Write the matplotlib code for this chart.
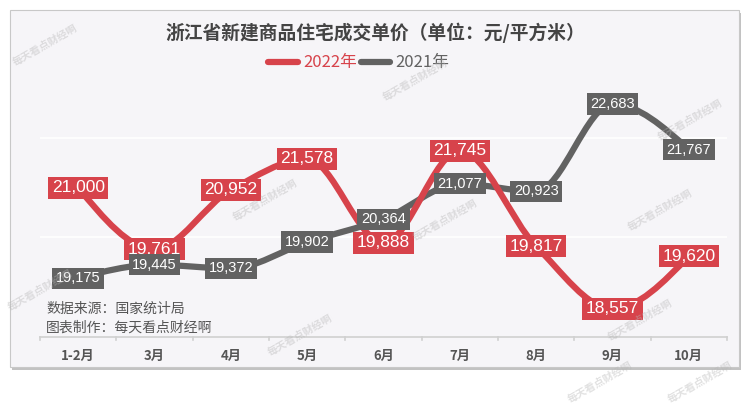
import matplotlib
matplotlib.use("Agg")
import matplotlib.pyplot as plt
import numpy as np
from matplotlib.path import Path
from matplotlib.patches import PathPatch, Rectangle

plt.rcParams['font.family'] = ['Noto Sans CJK SC', 'DejaVu Sans']

months = ["1-2月", "3月", "4月", "5月", "6月", "7月", "8月", "9月", "10月"]
price_2022 = [21000, 19761, 20952, 21578, 19888, 21745, 19817, 18557, 19620]
price_2021 = [19175, 19445, 19372, 19902, 20364, 21077, 20923, 22683, 21767]
y_ticks = [20000, 22000]

RED = "#d7434b"
GRAY = "#626262"
BG = "#f6f5f8"

W, H = 750, 408
fig = plt.figure(figsize=(W / 100, H / 100), dpi=100)
fig.patch.set_facecolor("white")

# frame with shadow
fig.patches.append(Rectangle((12 / W, 1 - 370 / H), 729 / W, 357 / H, transform=fig.transFigure,
                             facecolor="#9a9a9a", edgecolor="none", alpha=0.6, zorder=-2))
fig.patches.append(Rectangle((10 / W, 1 - 367 / H), 729 / W, 357 / H, transform=fig.transFigure,
                             facecolor=BG, edgecolor="#c8c8c8", linewidth=0.8, zorder=-1))

ax = fig.add_axes([40 / W, 1 - 336.5 / H, 687 / W, (336.5 - 38.7) / H])
ax.set_zorder(2)
ax.set_facecolor("none")
ax.set_xlim(-0.5, len(months) - 0.5)
ax.set_ylim(18000, 24000)


def monotone_path(xs, ys):
    xs = np.asarray(xs, float)
    ys = np.asarray(ys, float)
    n = len(xs)
    h = np.diff(xs)
    d = np.diff(ys) / h
    m = np.zeros(n)
    for i in range(1, n - 1):
        if d[i - 1] * d[i] <= 0:
            m[i] = 0.0
        else:
            m[i] = 2.0 / (1.0 / d[i - 1] + 1.0 / d[i])
    m[0] = (3 * d[0] - m[1]) / 2 if d[0] * (3 * d[0] - m[1]) > 0 else 0
    m[-1] = (3 * d[-1] - m[-2]) / 2 if d[-1] * (3 * d[-1] - m[-2]) > 0 else 0
    verts = [(xs[0], ys[0])]
    codes = [Path.MOVETO]
    for i in range(n - 1):
        dx = h[i] / 3.0
        verts += [(xs[i] + dx, ys[i] + m[i] * dx),
                  (xs[i + 1] - dx, ys[i + 1] - m[i + 1] * dx),
                  (xs[i + 1], ys[i + 1])]
        codes += [Path.CURVE4] * 3
    return Path(verts, codes)


x = np.arange(len(months))
for series, color, z in [(price_2021, GRAY, 3), (price_2022, RED, 4)]:
    p = monotone_path(x, series)
    ax.add_patch(PathPatch(p, facecolor="none", edgecolor=color, linewidth=4.5,
                           capstyle="round", joinstyle="round", zorder=z))

for xi, v in zip(x, price_2022):
    ax.text(xi, v, f"{v:,}", ha="center", va="center", color="white", fontsize=12.5,
            family=["Liberation Sans", "DejaVu Sans"], zorder=6,
            bbox=dict(boxstyle="square,pad=0.2", facecolor=RED, edgecolor="none"))
for xi, v in zip(x, price_2021):
    ax.text(xi, v, f"{v:,}", ha="center", va="center", color="white", fontsize=10.5,
            family=["Liberation Sans", "DejaVu Sans"], zorder=7,
            bbox=dict(boxstyle="square,pad=0.25", facecolor=GRAY, edgecolor="none"))

for yv in y_ticks:
    ax.axhline(yv, color="white", linewidth=1.2, zorder=1)

for s in ["top", "right", "left"]:
    ax.spines[s].set_visible(False)
ax.spines["bottom"].set_color("#d0d0d0")
ax.spines["bottom"].set_linewidth(1.2)
ax.set_yticks([])
ax.set_xticks(x)
ax.set_xticklabels(months, fontsize=9.5, fontweight="bold", color="#555555")
ax.tick_params(axis="x", length=0, pad=9)
for b in np.arange(-0.5, len(months), 1.0):
    ax.plot([b, b], [0, -0.012], transform=ax.get_xaxis_transform(), color="#d0d0d0",
            linewidth=1.2, clip_on=False)

# title
fig.text(0.5, 1 - 33 / H, "浙江省新建商品住宅成交单价（单位：元/平方米）", ha="center", va="center",
         fontsize=13.5, fontweight="bold", color="#444444")

# legend
ly = 1 - 62 / H
fig.add_artist(plt.Line2D([268 / W, 298 / W], [ly, ly], color=RED, linewidth=4.5,
                          solid_capstyle="round", transform=fig.transFigure))
fig.text(303 / W, ly, "2022年", ha="left", va="center", fontsize=12, color=RED)
fig.add_artist(plt.Line2D([361 / W, 390 / W], [ly, ly], color=GRAY, linewidth=4.5,
                          solid_capstyle="round", transform=fig.transFigure))
fig.text(395 / W, ly, "2021年", ha="left", va="center", fontsize=12, color=GRAY)

# source
fig.text(46 / W, 1 - 309 / H, "数据来源：国家统计局", ha="left", va="center", fontsize=10, color="#555555")
fig.text(46 / W, 1 - 328 / H, "图表制作：每天看点财经啊", ha="left", va="center", fontsize=10, color="#555555")

# watermarks
wm = [(45, 45), (415, 80), (690, 120), (265, 200), (445, 220), (660, 210),
      (40, 290), (300, 335), (640, 320), (600, 382), (700, 382)]
for wx, wy in wm:
    fig.text(wx / W, 1 - wy / H, "每天看点财经啊", ha="center", va="center", fontsize=7.5,
             color="#b5b5b5", alpha=0.4, rotation=30, fontweight="bold", zorder=10)

fig.savefig("out.png", dpi=100, facecolor="white")
